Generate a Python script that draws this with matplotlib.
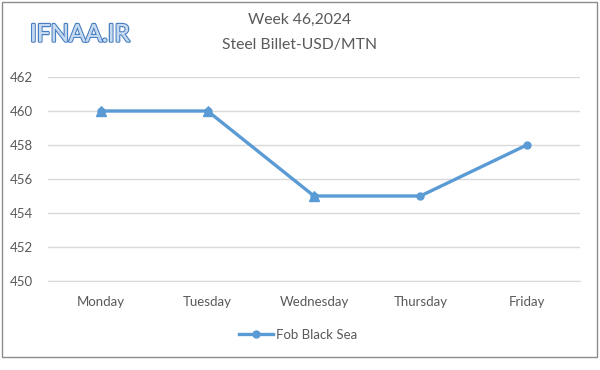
import matplotlib
matplotlib.use("Agg")
import matplotlib.pyplot as plt
import matplotlib.patheffects as pe
from matplotlib.patches import Rectangle
import numpy as np

days = ["Monday", "Tuesday", "Wednesday", "Thursday", "Friday"]
fob_black_sea = [460, 460, 455, 455, 458]
hidden_series = [460, 460, 455, np.nan, np.nan]
y_ticks = [450, 452, 454, 456, 458, 460, 462]

blue = "#5B9BD5"
gray = "#595959"

plt.rcParams['font.family'] = ['Lato', 'DejaVu Sans']

fig = plt.figure(figsize=(6.0, 3.7), dpi=100)
fig.patches.append(Rectangle((2/600, 1 - 357/370), 595/600, 355/370, transform=fig.transFigure,
                             fill=False, edgecolor="#8c8c8c", linewidth=1.0))

ax = fig.add_axes([48/600, 1 - 281/370, 532/600, 204/370])
x = np.arange(len(days))
ax.plot(x, hidden_series, color=blue, lw=0, marker="^", markersize=7, zorder=3)
ax.plot(x, fob_black_sea, color=blue, lw=2.4, marker="o", markersize=5, label="Fob Black Sea", zorder=4)

ax.set_xlim(-0.5, 4.5)
ax.set_ylim(450, 462)
ax.set_yticks(y_ticks)
ax.set_xticks(x)
ax.set_xticklabels(days)
ax.grid(axis="y", color="#d9d9d9", lw=1)
ax.set_axisbelow(True)
for s in ["left", "right", "top"]:
    ax.spines[s].set_visible(False)
ax.spines["bottom"].set_color("#d9d9d9")
ax.tick_params(length=0, labelsize=9.5, labelcolor=gray)
ax.tick_params(axis="x", pad=11)
ax.tick_params(axis="y", pad=11)

fig.text(0.5, 1 - 20/370, "Week 46,2024", ha="center", va="center", fontsize=11.3, color=gray)
fig.text(0.5, 1 - 45/370, "Steel Billet-USD/MTN", ha="center", va="center", fontsize=11.3, color=gray)

t = fig.text(30/600, 1 - 35/370, "IFNAA.IR", ha="left", va="center", fontsize=17.5, color="#c5daf0")
t.set_path_effects([pe.withStroke(linewidth=1.8, foreground="#4a7fc1"), pe.Normal()])

fig.legend(loc="center", bbox_to_anchor=(298/600, 1 - 335/370), frameon=False, fontsize=9.5,
           labelcolor=gray, handlelength=2.6, handletextpad=0.2)

fig.savefig("out.png", dpi=100)
